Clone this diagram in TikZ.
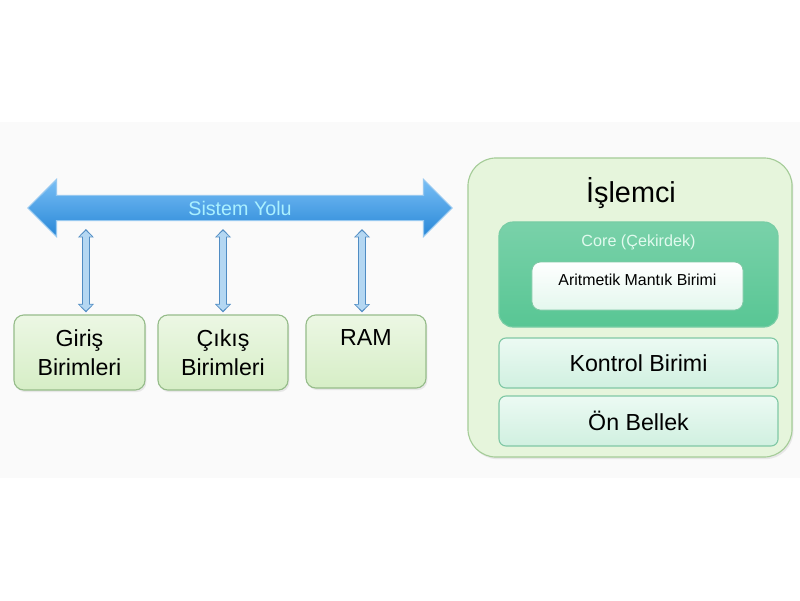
\documentclass[tikz,border=0pt]{standalone}
\usepackage{fontspec}
\setmainfont{Liberation Sans}
\usetikzlibrary{shapes,arrows.meta,positioning,shadows}
\definecolor{bandgray}{RGB}{250,250,250}
\definecolor{unitline}{RGB}{150,188,138}
\definecolor{unitfill}{RGB}{214,238,198}
\definecolor{unitlight}{RGB}{236,247,228}
\definecolor{cpuline}{RGB}{165,204,152}
\definecolor{cpufill}{RGB}{230,245,220}
\definecolor{coreline}{RGB}{120,205,165}
\definecolor{corefill}{RGB}{88,198,148}
\definecolor{coretext}{RGB}{225,250,238}
\definecolor{mintline}{RGB}{128,200,165}
\definecolor{mintfill}{RGB}{208,240,224}
\definecolor{mintlight}{RGB}{236,250,243}
\definecolor{busdark}{RGB}{40,135,215}
\definecolor{buslight}{RGB}{120,190,245}
\definecolor{busline}{RGB}{150,200,240}
\definecolor{bustext}{RGB}{170,240,255}
\definecolor{linkline}{RGB}{80,140,195}
\definecolor{linkfill}{RGB}{180,215,242}
\tikzset{x=0.025cm, y=-0.025cm, minimum size=0pt, inner sep=0pt, text centered, align=center}
\tikzstyle{unit} = [draw=unitline, line width=0.8pt, top color=unitlight, bottom color=unitfill, rounded corners=7pt, font=\fontsize{16.5}{21}\selectfont, drop shadow={opacity=0.15, shadow xshift=1pt, shadow yshift=-1.5pt}]
\tikzstyle{cpu} = [draw=cpuline, line width=0.8pt, fill=cpufill, rounded corners=20pt, drop shadow={opacity=0.15, shadow xshift=1pt, shadow yshift=-1.5pt}]
\tikzstyle{core} = [draw=coreline, line width=0.8pt, top color=corefill!80!white, bottom color=corefill, rounded corners=10pt]
\tikzstyle{alu} = [draw=mintline, line width=0.6pt, top color=white, bottom color=mintlight!70!mintfill, rounded corners=6pt, font=\fontsize{11.3}{13}\selectfont]
\tikzstyle{part} = [draw=mintline, line width=0.8pt, top color=mintlight, bottom color=mintfill, rounded corners=5pt, font=\fontsize{16.5}{20}\selectfont]
\tikzstyle{bus} = [double arrow, draw=busline, line width=0.8pt, top color=buslight, bottom color=busdark, minimum height=10.6cm, minimum width=1.425cm, double arrow head extend=0.375cm, inner sep=3pt, font=\fontsize{14}{16}\selectfont, text=bustext]
\tikzstyle{link} = [draw=linkline, line width=5.5pt, {Triangle[width=11pt, length=6pt]}-{Triangle[width=11pt, length=6pt]},
	postaction={draw=linkfill, line width=4pt, shorten <=1.3pt, shorten >=1.3pt, {Triangle[width=8.8pt, length=4.2pt]}-{Triangle[width=8.8pt, length=4.2pt]}}]

\begin{document}
\begin{tikzpicture}
	\useasboundingbox (0,0) rectangle (800,600);
	\fill [bandgray] (0,122) rectangle (800,478);

	\node [bus] (bus) at (240,208) {Sistem Yolu};

	\node [unit, minimum width=3.275cm, minimum height=1.875cm] (giris) at (79.5,352.5) {Giriş\\Birimleri};
	\node [unit, minimum width=3.25cm, minimum height=1.875cm] (cikis) at (223,352.5) {Çıkış\\Birimleri};
	\node [unit, minimum width=3.0cm, minimum height=1.825cm] (ram) at (366,351.5) {RAM\\[-8pt]\strut};

	\node [cpu, minimum width=8.1cm, minimum height=7.475cm] (islemci) at (630,307.5) {};
	\node [font=\fontsize{20.5}{24}\selectfont] (islemci_t) at (631,193) {İşlemci};

	\node [core, minimum width=6.975cm, minimum height=2.625cm] (core) at (638.5,274.5) {};
	\node [font=\fontsize{11.5}{13}\selectfont, text=coretext] (core_t) at (638.5,242) {Core (Çekirdek)};
	\node [alu, minimum width=5.275cm, minimum height=1.2cm] (alu) at (637.5,286) {Aritmetik Mantık Birimi\\[-4pt]};

	\node [part, minimum width=6.975cm, minimum height=1.25cm] (kontrol) at (638.5,363) {Kontrol Birimi};
	\node [part, minimum width=6.975cm, minimum height=1.25cm] (onbellek) at (638.5,421) {Ön Bellek};

	\coordinate (busfoot) at ([yshift=-0.525cm]bus.center);
	\coordinate (g_top) at ([xshift=0.16cm, yshift=0.05cm]giris.north);
	\coordinate (c_top) at ([yshift=0.05cm]cikis.north);
	\coordinate (r_top) at ([xshift=-0.1cm, yshift=0.05cm]ram.north);

	\draw [link] (g_top |- busfoot) -- (g_top);
	\draw [link] (c_top |- busfoot) -- (c_top);
	\draw [link] (r_top |- busfoot) -- (r_top);
\end{tikzpicture}
\end{document}
